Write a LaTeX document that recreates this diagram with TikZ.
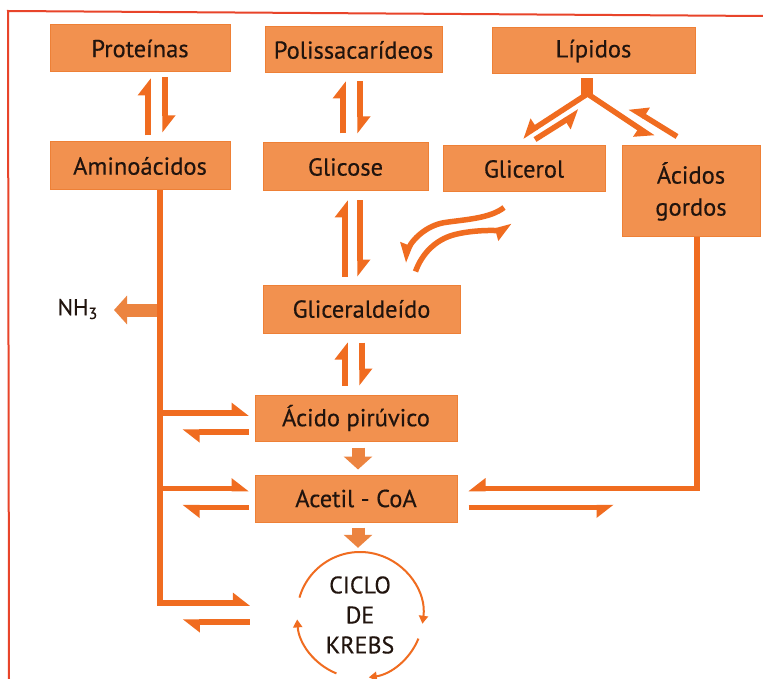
\documentclass[tikz,border=0pt]{standalone}
\usepackage{fontspec}
\setmainfont{PT Sans}
\newfontfamily\labelfont{PT Sans}[FakeBold=0.4]
\usetikzlibrary{arrows.meta,calc,decorations.markings}

\definecolor{boxfill}{HTML}{F2914F}
\definecolor{boxedge}{HTML}{EE8036}
\definecolor{linec}{HTML}{F06C20}
\definecolor{framec}{HTML}{E8442A}
\definecolor{blockc}{HTML}{EC8440}
\definecolor{inkc}{HTML}{21140E}

\tikzset{
  box/.style={rectangle, fill=boxfill, draw=boxedge, line width=1pt,
    text=inkc, inner sep=0pt, font=\labelfont\fontsize{24.5}{32}\selectfont},
  % half-headed arrow, barb on the left of the direction of travel
  harpL/.style={draw=linec, line width=5.5pt, line join=miter, shorten >=16pt,
    postaction={decorate, decoration={markings, mark=at position 1 with {
      \fill[linec] (0pt,-2.75pt) -- (-17pt,10.5pt) -- (-17pt,-2.75pt) -- cycle;}}}},
  % half-headed arrow, barb on the right of the direction of travel
  harpR/.style={draw=linec, line width=5.5pt, line join=miter, shorten >=16pt,
    postaction={decorate, decoration={markings, mark=at position 1 with {
      \fill[linec] (0pt,2.75pt) -- (-17pt,-10.5pt) -- (-17pt,2.75pt) -- cycle;}}}},
  spine/.style={harpL, line width=6.5pt},
  fat/.style={draw=blockc, line width=13pt,
    -{Triangle[length=13pt, width=28pt]}},
  cyc/.style={draw=linec, line width=2pt,
    -{Triangle[length=8pt, width=9pt]}},
  lbl/.style={text=inkc, inner sep=0pt, font=\labelfont\fontsize{23}{27}\selectfont},
}

\begin{document}
\begin{tikzpicture}[x=1pt, y=-1pt]
\useasboundingbox (0,0) rectangle (763,679);
\fill[white] (0,0) rectangle (763,679);

% frame
\draw[framec, line width=2pt] (9,679) -- (8,11) -- (763,16);

% boxes
\node[box, minimum width=180pt, minimum height=47pt] (prot) at (140,48.5) {Proteínas};
\node[box, minimum width=177pt, minimum height=46pt] (poly) at (353.5,50) {Polissacarídeos};
\node[box, minimum width=203pt, minimum height=46pt] (lip) at (593.5,51) {Lípidos};
\node[box, minimum width=180pt, minimum height=48pt] (amino) at (140,166) {Aminoácidos};
\node[box, minimum width=165pt, minimum height=48pt] (glicose) at (345.5,167) {Glicose};
\node[box, minimum width=162pt, minimum height=46pt] (glicerol) at (524,169) {Glicerol};
\node[box, minimum width=138pt, minimum height=91pt, align=center] (acidos) at (691,191.5) {Ácidos\\gordos};
\node[box, minimum width=197pt, minimum height=48pt] (glic) at (361.5,309) {Gliceraldeído};
\node[box, minimum width=202pt, minimum height=46pt] (pir) at (356,418) {Ácido pirúvico};
\node[box, minimum width=202pt, minimum height=47pt] (acetil) at (356,498.5) {Acetil - CoA};
\node[circle, minimum size=126pt, inner sep=0pt, align=center, text=inkc,
  font=\labelfont\fontsize{24}{30}\selectfont] (krebs) at (360,615) {CICLO\\DE\\KREBS};
\node[lbl, anchor=east] (nh) at (98,309) {NH\textsubscript{3}};

% reversible steps between stacked boxes
\draw[harpL] ($(amino.north)+(8,-6)$) -- ($(prot.south)+(8,6)$);
\draw[harpL] ($(prot.south)+(25,5)$) -- ($(amino.north)+(25,-9)$);
\draw[harpL] ($(glicose.north)+(-2.5,-9)$) -- ($(poly.south)+(-10.5,8)$);
\draw[harpL] ($(poly.south)+(6.5,8)$) -- ($(glicose.north)+(14.5,-9)$);
\draw[harpL] ($(glic.north)+(-16.5,-8)$) -- ($(glicose.south)+(-0.5,9)$);
\draw[harpL] ($(glicose.south)+(14.5,9)$) -- ($(glic.north)+(-1.5,-8)$);
\draw[harpL] ($(pir.north)+(-11,-9)$) -- ($(glic.south)+(-16.5,9)$);
\draw[harpL] ($(glic.south)+(0.5,9)$) -- ($(pir.north)+(6,-9)$);

% lipid split
\fill[linec] ($(lip.south)+(-12.5,4)$) rectangle ($(lip.south)+(-0.5,22)$);
\draw[harpR] ($(lip.south)+(-7,20)$) -- ($(glicerol.north)+(-2,-9)$);
\draw[harpR] ($(glicerol.north)+(11,-6)$) -- ($(lip.south)+(-14,37)$);
\draw[harpR] ($(lip.south)+(-5,20)$) -- ($(acidos.north)+(-38,-8)$);
\draw[harpR] ($(acidos.north)+(-14,-9)$) -- ($(acidos.north)+(-61,-38)$);

% glycerol to glyceraldehyde
\draw[harpR] ($(glicerol.south)+(-20,15)$)
  .. controls +(-14,11) and +(20,-3) .. ($(glicerol.south)+(-79,30)$)
  .. controls +(-20,3) and +(8,-20) .. ($(glic.north)+(42,-23)$);
\draw[harpR] ($(glic.north)+(54,-13)$)
  .. controls +(6,-17) and +(-20,5) .. ($(glicerol.south)+(-69,42)$)
  .. controls +(20,-5) and +(-15,4) .. ($(glicerol.south)+(-12,34)$);

% one-way steps
\draw[fat] ($(pir.south)+(2,6)$) -- ($(acetil.north)+(2,-5)$);
\draw[fat] ($(acetil.south)+(2,5)$) -- ($(krebs.north)+(-2,-4)$);
\draw[fat] ($(nh.east)+(60,1)$) -- ($(nh.east)+(16,1)$);

% amino acid branch
\draw[spine] ($(amino.south)+(20,0)$) |- ($(krebs.west)+(-47,-12)$);
\draw[harpL] ($(krebs.west)+(-47,7)$) -- ($(krebs.west)+(-114,7)$);
\draw[harpL] ($(pir.west)+(-95,-5)$) -- ($(pir.west)+(-6,-5)$);
\draw[harpL] ($(pir.west)+(-6,14)$) -- ($(pir.west)+(-72,14)$);
\draw[harpL] ($(acetil.west)+(-95,-10)$) -- ($(acetil.west)+(-6,-10)$);
\draw[harpL] ($(acetil.west)+(-6,9)$) -- ($(acetil.west)+(-72,9)$);

% fatty acid branch
\draw[harpR] ($(acidos.south)+(6,0)$) |- ($(acetil.east)+(11,-10)$);
\draw[harpR] ($(acetil.east)+(11,9)$) -- ($(acetil.east)+(156,9)$);

% Krebs cycle arrows
\draw[cyc] ($(krebs.center)+(-164:63)$) arc[start angle=-164, end angle=8, radius=63];
\draw[cyc] ($(krebs.center)+(22:63)$) arc[start angle=22, end angle=82, radius=63];
\draw[cyc] ($(krebs.center)+(112:63)$) arc[start angle=112, end angle=176, radius=63];
\end{tikzpicture}
\end{document}
